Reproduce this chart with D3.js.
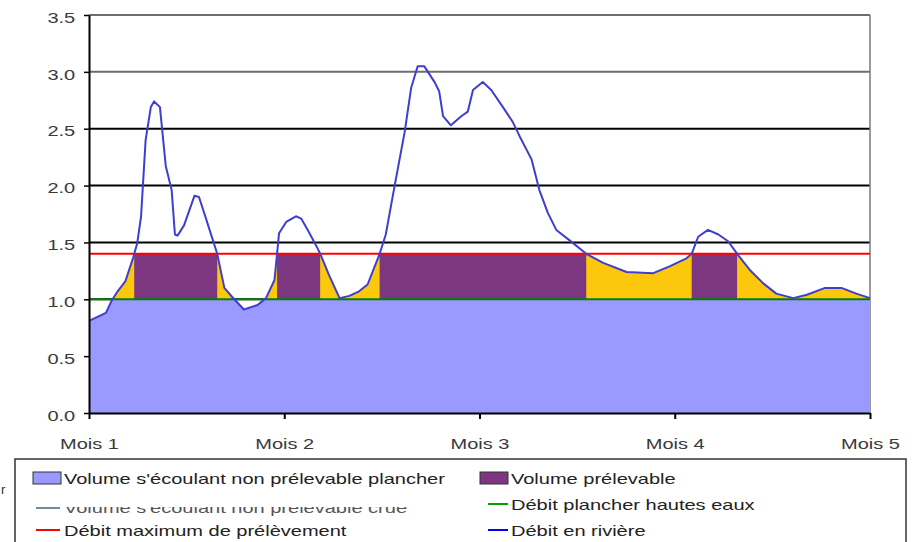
<!DOCTYPE html>
<html>
<head>
<meta charset="utf-8">
<script src="https://cdn.jsdelivr.net/npm/d3@7"></script>
<style>
  body { margin: 0; background: #fff; }
  svg { display: block; font-family: "Liberation Sans", Arial, sans-serif; }
</style>
</head>
<body>
<svg id="chart"></svg>
<script>
// jour depuis le début de Mois 1 (30 jours par mois) et débit
const jours = [0, 2.6, 3.5, 4.4, 5.6, 6.8, 7.4, 8.0, 8.7, 9.5, 10.0, 10.9, 11.8, 12.7, 13.2, 13.6,
    14.6, 16.2, 16.9, 18.2, 19.7, 20.8, 22.0, 23.8, 25.9, 27.2, 28.5, 29.2, 30.3, 31.8, 32.6,
    33.8, 35.1, 35.6, 36.9, 38.5, 40.0, 41.5, 42.8, 44.6, 45.6, 46.9, 48.5, 49.5, 50.5, 51.5,
    53.1, 53.8, 54.4, 55.6, 57.2, 58.2, 59.0, 60.5, 61.8, 63.6, 65.1, 66.2, 68.0, 69.2, 70.5,
    71.8, 73.8, 76.4, 79.0, 82.6, 86.7, 89.2, 91.8, 92.6, 93.6, 95.1, 96.7, 98.2, 99.7, 101.5,
    103.6, 105.6, 108.2, 110.3, 113.1, 115.6, 117.9, 120];
const debit = [0.81, 0.88, 0.99, 1.07, 1.16, 1.37, 1.49, 1.73, 2.40, 2.69, 2.74, 2.69, 2.17, 1.96, 1.57, 1.56,
    1.65, 1.91, 1.90, 1.67, 1.40, 1.10, 1.02, 0.91, 0.95, 1.01, 1.17, 1.58, 1.68, 1.73, 1.71,
    1.59, 1.45, 1.39, 1.21, 1.01, 1.03, 1.07, 1.13, 1.39, 1.57, 1.98, 2.47, 2.86, 3.05, 3.05,
    2.91, 2.83, 2.61, 2.53, 2.61, 2.65, 2.84, 2.91, 2.84, 2.69, 2.56, 2.43, 2.23, 1.96, 1.76,
    1.61, 1.52, 1.40, 1.32, 1.24, 1.23, 1.29, 1.36, 1.40, 1.55, 1.61, 1.57, 1.51, 1.39, 1.26,
    1.14, 1.05, 1.01, 1.04, 1.10, 1.10, 1.05, 1.01];

const moisJours = [0, 30, 60, 90, 120];
const moisLabels = ["Mois 1", "Mois 2", "Mois 3", "Mois 4", "Mois 5"];
const yTicks = [0, 0.5, 1.0, 1.5, 2.0, 2.5, 3.0, 3.5];

const debitPlancher = 1.0;
const debitMaxPrelevement = 1.4;

const legendLabels = ["Volume s'écoulant non prélevable plancher", "Volume prélevable",
    "Volume s'écoulant non prélevable crue", "Débit plancher hautes eaux",
    "Débit maximum de prélèvement", "Débit en rivière"];

const W = 917, H = 542;
const SX = 1.38; // the original text is stretched horizontally
const FONT = 14.5;

const svg = d3.select("#chart").attr("width", W).attr("height", H);

const x = d3.scaleLinear().domain([0, 120]).range([89, 870]);
const y = d3.scaleLinear().domain([0, 3.5]).range([413, 15]);

const data = jours.map((j, i) => ({ j: j, q: debit[i] }));

// add the points where the flow crosses the two thresholds, so fills have clean edges
function withCrossings(pts, levels) {
    let out = [pts[0]];
    for (let i = 1; i < pts.length; i++) {
        let a = pts[i - 1], b = pts[i];
        let cuts = [];
        levels.forEach(L => {
            if ((a.q - L) * (b.q - L) < 0) {
                let t = (L - a.q) / (b.q - a.q);
                cuts.push({ j: a.j + t * (b.j - a.j), q: L });
            }
        });
        cuts.sort((u, v) => u.j - v.j).forEach(c => out.push(c));
        out.push(b);
    }
    return out;
}
const dense = withCrossings(data, [debitPlancher, debitMaxPrelevement]);

// grid lines
svg.append("g").selectAll("line")
    .data(yTicks.filter(d => d > 0))
    .join("line")
    .attr("x1", x(0)).attr("x2", x(120))
    .attr("y1", d => y(d)).attr("y2", d => y(d))
    .attr("stroke", d => d >= 3 ? "#6e6e6e" : "#000")
    .attr("stroke-width", 2);

// plot area right border
svg.append("line")
    .attr("x1", x(120)).attr("x2", x(120))
    .attr("y1", y(3.5)).attr("y2", y(0))
    .attr("stroke", "#7a7a7a").attr("stroke-width", 1.5);

// blue: non prélevable plancher
svg.append("path")
    .datum(dense)
    .attr("fill", "#9999ff")
    .attr("d", d3.area()
        .x(d => x(d.j))
        .y0(y(0))
        .y1(d => y(Math.min(d.q, debitPlancher))));

// yellow: between floor and min(flow, max)
svg.append("path")
    .datum(dense)
    .attr("fill", "#fcc80c")
    .attr("d", d3.area()
        .x(d => x(d.j))
        .y0(y(debitPlancher))
        .y1(d => y(Math.max(debitPlancher, Math.min(d.q, debitMaxPrelevement)))));

// purple: volume prélevable where flow is above max
svg.append("path")
    .datum(dense)
    .attr("fill", "#7d3780")
    .attr("d", d3.area()
        .defined(d => d.q >= debitMaxPrelevement)
        .x(d => x(d.j))
        .y0(y(debitPlancher))
        .y1(y(debitMaxPrelevement)));

// threshold lines
svg.append("line")
    .attr("x1", x(0)).attr("x2", x(120))
    .attr("y1", y(debitPlancher)).attr("y2", y(debitPlancher))
    .attr("stroke", "#008000").attr("stroke-width", 2);

svg.append("line")
    .attr("x1", x(0)).attr("x2", x(120))
    .attr("y1", y(debitMaxPrelevement)).attr("y2", y(debitMaxPrelevement))
    .attr("stroke", "#ff0000").attr("stroke-width", 2);

// flow line
svg.append("path")
    .datum(data)
    .attr("fill", "none")
    .attr("stroke", "#3e3ed0")
    .attr("stroke-width", 2)
    .attr("stroke-linejoin", "round")
    .attr("d", d3.line().x(d => x(d.j)).y(d => y(d.q)));

// axes
let yAxis = svg.append("g")
    .attr("transform", `translate(${x(0)},0)`)
    .call(d3.axisLeft(y).tickValues(yTicks).tickFormat(d3.format(".1f")).tickSize(5).tickSizeOuter(0));
yAxis.select(".domain").attr("stroke", "#000").attr("stroke-width", 2);
yAxis.selectAll(".tick line").attr("stroke", "#000").attr("stroke-width", 1.5);
yAxis.selectAll(".tick text")
    .attr("x", -10).attr("dy", "0.5em")
    .attr("transform", `scale(${SX},1)`)
    .attr("fill", "#3a3a3a")
    .style("font-size", FONT + "px");

let xAxis = svg.append("g")
    .attr("transform", `translate(0,${y(0)})`)
    .call(d3.axisBottom(x).tickValues(moisJours).tickFormat((d, i) => moisLabels[i]).tickSize(6).tickSizeOuter(0));
xAxis.select(".domain").attr("stroke", "#000").attr("stroke-width", 2);
xAxis.selectAll(".tick line").attr("stroke", "#000").attr("stroke-width", 2);
xAxis.selectAll(".tick text")
    .attr("x", 0).attr("y", 36).attr("dy", 0)
    .attr("transform", `scale(${SX},1)`)
    .attr("fill", "#3a3a3a")
    .style("font-size", FONT + "px");
svg.selectAll("g").style("font-family", "'Liberation Sans', Arial, sans-serif");

// legend
let legend = svg.append("g");
legend.append("rect")
    .attr("x", 15).attr("y", 459).attr("width", 891).attr("height", 100)
    .attr("fill", "#fff").attr("stroke", "#333").attr("stroke-width", 1.5);

function legendText(parent, tx, ty, label, color) {
    return parent.append("text")
        .attr("transform", `translate(${tx},${ty}) scale(${SX},1)`)
        .attr("fill", color || "#222")
        .style("font-size", FONT + "px")
        .text(label);
}

const colX = [33, 480];
const rowY = [478, 504, 530];

legend.append("rect").attr("x", colX[0]).attr("y", rowY[0] - 6).attr("width", 28).attr("height", 12)
    .attr("fill", "#9999ff").attr("stroke", "#333");
legendText(legend, colX[0] + 31, rowY[0] + 6, legendLabels[0]);

legend.append("rect").attr("x", colX[1]).attr("y", rowY[0] - 6).attr("width", 28).attr("height", 12)
    .attr("fill", "#7d3780").attr("stroke", "#333");
legendText(legend, colX[1] + 31, rowY[0] + 6, legendLabels[1]);

// third item: only its lower part shows
svg.append("clipPath").attr("id", "clipCrue")
    .append("rect").attr("x", 0).attr("y", rowY[1] + 3).attr("width", W).attr("height", 20);
legend.append("line").attr("x1", colX[0] + 3).attr("x2", colX[0] + 27)
    .attr("y1", rowY[1] + 4).attr("y2", rowY[1] + 4)
    .attr("stroke", "#7b8896").attr("stroke-width", 2);
let crue = legend.append("g").attr("clip-path", "url(#clipCrue)");
legendText(crue, colX[0] + 31, rowY[1] + 9, legendLabels[2], "#555");

legend.append("line").attr("x1", colX[1] + 8).attr("x2", colX[1] + 28)
    .attr("y1", rowY[1]).attr("y2", rowY[1])
    .attr("stroke", "#00a000").attr("stroke-width", 2);
legendText(legend, colX[1] + 31, rowY[1] + 6, legendLabels[3]);

legend.append("line").attr("x1", colX[0] + 3).attr("x2", colX[0] + 27)
    .attr("y1", rowY[2]).attr("y2", rowY[2])
    .attr("stroke", "#ff0000").attr("stroke-width", 2);
legendText(legend, colX[0] + 31, rowY[2] + 6, legendLabels[4]);

legend.append("line").attr("x1", colX[1] + 8).attr("x2", colX[1] + 28)
    .attr("y1", rowY[2]).attr("y2", rowY[2])
    .attr("stroke", "#0000ff").attr("stroke-width", 2);
legendText(legend, colX[1] + 31, rowY[2] + 6, legendLabels[5]);

// stray character at the left edge
svg.append("text").attr("x", 1).attr("y", 494).attr("fill", "#333")
    .style("font-size", "13px").text("r");
</script>
</body>
</html>
